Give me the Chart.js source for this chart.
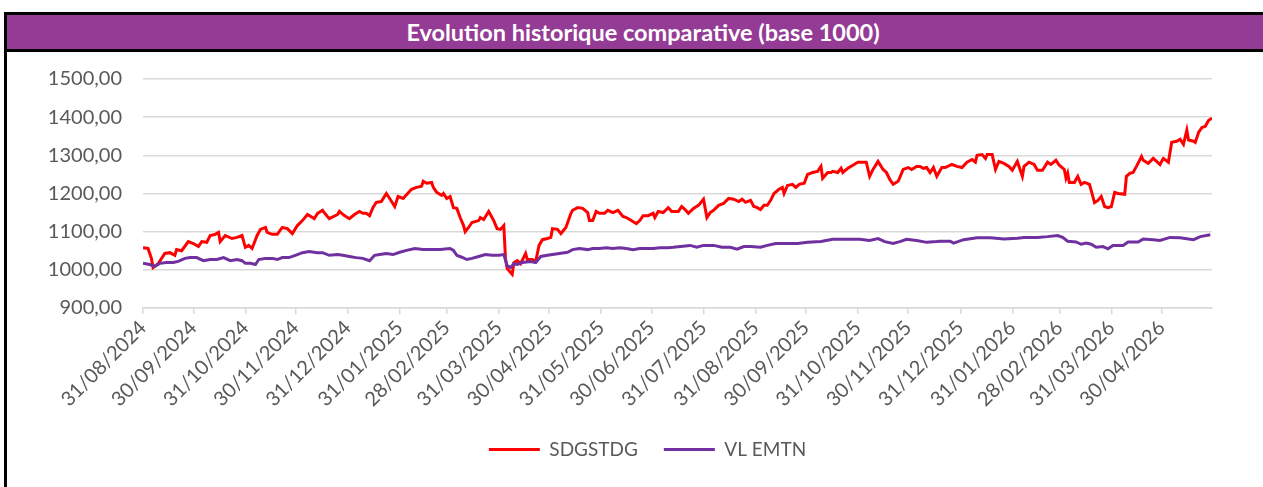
<!DOCTYPE html>
<html lang="fr">
<head>
  <meta charset="UTF-8" />
  <title>Evolution historique comparative</title>
  <style>
    * { margin: 0; padding: 0; box-sizing: border-box; }
    body {
      background: #ffffff;
      width: 1263px;
      height: 487px;
      overflow: hidden;
      font-family: 'Lato', sans-serif;
    }
    /* boxed frame with the purple header band */
    .frame {
      position: absolute;
      left: 4px;
      top: 12px;
      width: 1275px;
      height: 480px;
      border-left: 3px solid #000;
      border-top: 3px solid #000;
    }
    .frame h1 {
      height: 37px;
      line-height: 34px;
      background: #943B95;
      border-bottom: 3px solid #000;
      color: #ffffff;
      font-size: 23.5px;
      font-weight: 700;
      text-align: center;
    }
    .chart-box {
      position: relative;
      width: 1256px;
      height: 435px;
    }
  </style>
</head>
<body>
  <div class="frame">
    <h1>Evolution historique comparative (base 1000)</h1>
    <div class="chart-box">
      <canvas id="evoChart" width="1256" height="435"></canvas>
    </div>
  </div>
  <script src="https://cdn.jsdelivr.net/npm/chart.js"></script>
  <script>
    // x values are days counted from 31/08/2024
    const tickLabels = [
      "31/08/2024", "30/09/2024", "31/10/2024", "30/11/2024", "31/12/2024",
      "31/01/2025", "28/02/2025", "31/03/2025", "30/04/2025", "31/05/2025",
      "30/06/2025", "31/07/2025", "31/08/2025", "30/09/2025", "31/10/2025",
      "30/11/2025", "31/12/2025", "31/01/2026", "28/02/2026", "31/03/2026",
      "30/04/2026"
    ];
    const yTicks = [900, 1000, 1100, 1200, 1300, 1400, 1500];
    const xMax = 637;

    const seriesNames = ["SDGSTDG", "VL EMTN"];

    const sdgDays = [
      0, 3, 5, 6, 9, 13, 16, 19, 20, 23, 27, 30, 33, 35, 38, 40, 43, 45, 46, 49,
      53, 56, 59, 61, 63, 65, 68, 70, 73, 74, 77, 80, 83, 86, 89, 92, 95, 98, 101, 102,
      104, 107, 108, 111, 116, 117, 120, 123, 126, 129, 131, 133, 135, 137, 139, 142, 145, 147, 150, 152,
      155, 160, 163, 166, 167, 169, 172, 173, 175, 178, 179, 181, 183, 185, 187, 189, 191, 192, 194, 196,
      200, 201, 203, 206, 209, 211, 213, 215, 216, 217, 220, 221, 223, 225, 228, 229, 232, 234, 236, 238,
      241, 243, 244, 247, 249, 252, 255, 256, 259, 262, 265, 266, 268, 270, 272, 275, 277, 280, 283, 286,
      288, 290, 294, 296, 298, 301, 304, 305, 307, 310, 313, 315, 319, 321, 323, 325, 328, 331, 334, 336,
      338, 340, 343, 346, 349, 352, 355, 357, 359, 362, 364, 366, 368, 370, 372, 374, 376, 379, 381, 382,
      384, 387, 389, 391, 394, 396, 399, 402, 404, 405, 408, 410, 411, 414, 416, 417, 420, 423, 426, 429,
      431, 433, 435, 438, 441, 443, 445, 447, 450, 453, 456, 458, 461, 463, 465, 467, 469, 471, 473, 476,
      478, 482, 485, 488, 491, 494, 496, 497, 500, 502, 503, 506, 508, 510, 513, 516, 518, 521, 524, 525,
      528, 531, 533, 536, 539, 541, 544, 546, 549, 550, 551, 552, 555, 557, 559, 561, 564, 567, 569, 571,
      573, 575, 577, 579, 581, 585, 586, 588, 590, 592, 595, 596, 599, 602, 604, 606, 608, 611, 613, 616,
      618, 620, 622, 623, 626, 627, 629, 631, 633, 635, 637
    ];
    const sdgValues = [
      1058, 1056, 1030, 1006, 1016, 1043, 1045, 1038, 1053, 1050, 1074, 1069, 1061, 1074, 1072, 1090, 1093, 1098, 1074, 1090,
      1082, 1085, 1090, 1059, 1064, 1056, 1090, 1106, 1111, 1098, 1093, 1093, 1111, 1108, 1095, 1116, 1129, 1145, 1137, 1134,
      1148, 1156, 1150, 1134, 1145, 1153, 1142, 1134, 1145, 1153, 1148, 1148, 1142, 1163, 1177, 1179, 1200, 1187, 1166, 1192,
      1187, 1211, 1216, 1219, 1232, 1227, 1229, 1216, 1203, 1195, 1200, 1187, 1192, 1163, 1161, 1137, 1116, 1100, 1111, 1124,
      1129, 1137, 1132, 1153, 1129, 1108, 1106, 1116, 1030, 1003, 988, 1019, 1024, 1016, 1043, 1027, 1027, 1022, 1064, 1079,
      1082, 1085, 1108, 1106, 1095, 1111, 1148, 1156, 1163, 1161, 1150, 1129, 1129, 1153, 1148, 1148, 1156, 1150, 1156, 1140,
      1137, 1132, 1121, 1129, 1142, 1142, 1148, 1137, 1153, 1150, 1163, 1153, 1153, 1166, 1158, 1148, 1161, 1169, 1185, 1137,
      1150, 1156, 1169, 1174, 1187, 1185, 1179, 1185, 1177, 1182, 1166, 1163, 1158, 1169, 1169, 1182, 1200, 1211, 1216, 1200,
      1221, 1224, 1216, 1224, 1227, 1250, 1255, 1258, 1271, 1240, 1255, 1255, 1258, 1255, 1266, 1255, 1266, 1274, 1282, 1282,
      1282, 1245, 1263, 1284, 1263, 1255, 1237, 1224, 1232, 1263, 1268, 1263, 1271, 1271, 1266, 1268, 1255, 1268, 1245, 1268,
      1268, 1276, 1271, 1268, 1282, 1289, 1282, 1300, 1302, 1292, 1302, 1302, 1263, 1284, 1279, 1271, 1261, 1284, 1245, 1271,
      1282, 1276, 1261, 1261, 1282, 1276, 1287, 1274, 1263, 1240, 1253, 1229, 1229, 1245, 1224, 1229, 1224, 1176, 1182, 1192,
      1166, 1163, 1166, 1203, 1200, 1198, 1245, 1253, 1255, 1271, 1297, 1287, 1279, 1292, 1284, 1276, 1292, 1282, 1334, 1337,
      1342, 1329, 1366, 1340, 1337, 1334, 1360, 1373, 1376, 1392, 1397
    ];

    const vlDays = [
      0, 4, 7, 10, 14, 18, 21, 25, 28, 32, 36, 40, 44, 48, 52, 56, 59, 61, 64, 67,
      69, 73, 77, 80, 83, 87, 92, 95, 99, 104, 107, 111, 116, 119, 123, 127, 131, 135, 138, 141,
      145, 149, 153, 157, 162, 167, 172, 177, 183, 185, 187, 190, 193, 196, 200, 204, 208, 212, 215, 217,
      219, 221, 223, 226, 231, 234, 237, 241, 244, 248, 253, 256, 260, 265, 268, 272, 276, 280, 284, 288,
      292, 296, 300, 304, 308, 313, 316, 326, 330, 334, 340, 345, 350, 354, 358, 362, 368, 372, 377, 384,
      390, 396, 404, 411, 420, 427, 433, 438, 442, 447, 451, 455, 461, 467, 473, 475, 481, 483, 489, 497,
      505, 513, 521, 525, 533, 539, 545, 548, 551, 556, 559, 562, 565, 568, 572, 575, 578, 584, 587, 593,
      596, 602, 606, 612, 618, 623, 626, 630, 636
    ];
    const vlValues = [
      1017, 1014, 1009, 1017, 1019, 1019, 1022, 1030, 1032, 1032, 1024, 1027, 1027, 1032, 1024, 1027, 1024, 1017, 1017, 1014,
      1027, 1030, 1030, 1027, 1032, 1032, 1040, 1045, 1048, 1045, 1045, 1038, 1040, 1038, 1035, 1032, 1030, 1024, 1038, 1040,
      1043, 1040, 1046, 1051, 1056, 1053, 1053, 1053, 1056, 1051, 1038, 1033, 1027, 1030, 1035, 1040, 1038, 1038, 1040, 1011,
      1006, 1016, 1014, 1019, 1022, 1019, 1035, 1038, 1040, 1043, 1046, 1053, 1056, 1053, 1056, 1056, 1058, 1056, 1058, 1056,
      1053, 1056, 1056, 1056, 1058, 1058, 1059, 1064, 1059, 1064, 1064, 1059, 1059, 1054, 1061, 1061, 1059, 1064, 1069, 1069,
      1069, 1072, 1074, 1080, 1080, 1080, 1077, 1082, 1074, 1069, 1074, 1080, 1077, 1072, 1074, 1075, 1075, 1070, 1079, 1084,
      1084, 1081, 1083, 1085, 1085, 1087, 1090, 1085, 1075, 1073, 1067, 1070, 1067, 1059, 1061, 1055, 1064, 1064, 1073, 1073,
      1081, 1079, 1077, 1085, 1084, 1081, 1079, 1087, 1092
    ];

    // month-end tick positions, in days from the first tick
    const origin = new Date(2024, 7, 31);
    const tickDays = tickLabels.map(s => {
      const [d, m, y] = s.split("/").map(Number);
      return Math.round((new Date(y, m - 1, d) - origin) / 86400000);
    });

    const toPoints = (xs, ys) => xs.map((x, i) => ({ x: x, y: ys[i] }));
    const frNumber = v => v.toFixed(2).replace(".", ",");

    // nudges the centred legend row to the right
    const legendShift = {
      id: "legendShift",
      afterLayout(chart) {
        chart.legend.left += 38;
        chart.legend.right += 38;
      }
    };

    new Chart(document.getElementById("evoChart"), {
      type: "line",
      data: {
        datasets: [
          {
            label: seriesNames[0],
            data: toPoints(sdgDays, sdgValues),
            borderColor: "#FF0000",
            backgroundColor: "#FF0000",
            borderWidth: 3,
            pointRadius: 0,
            tension: 0,
            order: 1
          },
          {
            label: seriesNames[1],
            data: toPoints(vlDays, vlValues),
            borderColor: "#7030A0",
            backgroundColor: "#7030A0",
            borderWidth: 3,
            pointRadius: 0,
            tension: 0,
            order: 0
          }
        ]
      },
      options: {
        responsive: false,
        animation: false,
        devicePixelRatio: 1,
        events: [],
        layout: { padding: { top: 27, right: 51, left: 0, bottom: 18 } },
        scales: {
          x: {
            type: "linear",
            min: 0,
            max: xMax,
            afterBuildTicks: scale => {
              scale.ticks = tickDays.map(v => ({ value: v }));
            },
            afterFit: scale => { scale.height = 106; },
            ticks: {
              autoSkip: false,
              maxRotation: 45,
              minRotation: 45,
              padding: 2,
              color: "#595959",
              font: { family: "Lato", size: 20 },
              callback: value => tickLabels[tickDays.indexOf(value)]
            },
            grid: {
              drawOnChartArea: false,
              drawTicks: true,
              tickLength: 6,
              color: "#D9D9D9",
              lineWidth: 1.5
            },
            border: { display: true, color: "#D9D9D9", width: 1.5 }
          },
          y: {
            min: 900,
            max: 1500,
            afterBuildTicks: scale => {
              scale.ticks = yTicks.map(v => ({ value: v }));
            },
            afterFit: scale => {
              scale.width = 136;
              scale.paddingTop = 0;
              scale.paddingBottom = 0;
            },
            ticks: {
              padding: 21,
              color: "#595959",
              font: { family: "Lato", size: 20 },
              callback: value => frNumber(value)
            },
            grid: { drawTicks: false, color: "#D9D9D9", lineWidth: 1.5 },
            border: { display: false }
          }
        },
        plugins: {
          legend: {
            display: true,
            position: "bottom",
            labels: {
              usePointStyle: true,
              pointStyle: "line",
              pointStyleWidth: 51,
              padding: 26,
              color: "#595959",
              font: { family: "Lato", size: 19 },
              sort: (a, b) => a.datasetIndex - b.datasetIndex
            }
          },
          tooltip: { enabled: false },
          title: { display: false }
        }
      },
      plugins: [legendShift]
    });
  </script>
</body>
</html>
